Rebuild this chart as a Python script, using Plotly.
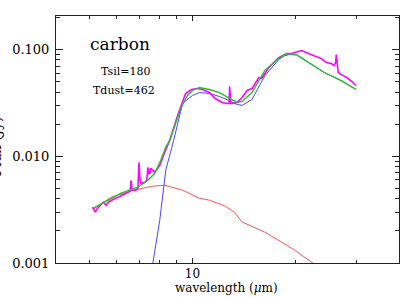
import plotly.graph_objects as go

# observed spectrum (magenta)
obs_wl = [5.107, 5.16, 5.209, 5.26, 5.313, 5.40, 5.494, 5.605, 5.70, 5.794, 5.93, 6.071, 6.20, 6.361, 6.489,
          6.58, 6.620, 6.66, 6.709, 6.844, 6.93, 6.981, 7.03, 7.074, 7.265, 7.36, 7.411, 7.46, 7.510, 7.561,
          7.765, 8.027, 8.299, 8.580, 9.049, 9.545, 9.93, 10.34, 10.69, 11.20, 11.65, 11.97, 12.21, 12.62,
          12.78, 12.83, 12.93, 13.05, 13.49, 13.95, 14.42, 14.91, 15.41, 15.62, 15.9, 16.69, 17.84, 18.82,
          19.45, 20.79, 21.79, 22.52, 23.76, 24.55, 25.38, 25.9, 26.15, 26.25, 26.40, 26.60, 27.5, 28.42, 29.2, 29.99]
obs_f = [0.00334, 0.00310, 0.00300, 0.00320, 0.00334, 0.00350, 0.00372, 0.00348, 0.00375, 0.00388, 0.00400,
         0.00414, 0.00430, 0.00451, 0.00461, 0.00470, 0.00597, 0.00480, 0.00481, 0.00481, 0.00500, 0.00879,
         0.00600, 0.00559, 0.00571, 0.00600, 0.00789, 0.00680, 0.00694, 0.00773, 0.00709, 0.00824, 0.0109,
         0.0141, 0.0241, 0.0388, 0.0423, 0.0432, 0.0423, 0.0396, 0.0348, 0.0334, 0.0320, 0.0313, 0.0313,
         0.0451, 0.0313, 0.0313, 0.0320, 0.0356, 0.0414, 0.0432, 0.0513, 0.0547, 0.0536, 0.0679, 0.0842,
         0.0918, 0.0918, 0.0979, 0.0918, 0.0879, 0.0824, 0.0756, 0.0740, 0.0710, 0.0760, 0.0898, 0.0700,
         0.0610, 0.0570, 0.0536, 0.0500, 0.0461]

# total model (green)
tot_wl = [5.140, 5.680, 6.194, 6.934, 7.411, 7.765, 8.081, 8.356, 8.580, 9.049, 9.357, 9.672, 10.0, 10.48,
          11.20, 11.97, 12.75, 13.49, 13.95, 14.91, 16.25, 17.84, 18.57, 19.20, 20.1, 21.79, 24.23, 27.13, 29.99]
tot_f = [0.00327, 0.00388, 0.00451, 0.00513, 0.00597, 0.00694, 0.00917, 0.01213, 0.0141, 0.0231, 0.0306,
         0.0372, 0.0414, 0.0442, 0.0423, 0.0396, 0.0356, 0.0320, 0.0327, 0.0396, 0.0637, 0.0824, 0.0898,
         0.0918, 0.0898, 0.0756, 0.0610, 0.0513, 0.0423]

# carbon dust component (blue)
sil_wl = [7.411, 7.51, 7.662, 8.027, 8.356, 8.81, 9.357, 10.0, 10.48, 11.20, 11.97, 12.75, 13.49, 13.95,
          14.91, 16.25, 17.84, 18.57, 19.20, 20.1, 21.79, 24.23, 27.13, 29.99]
sil_f = [0.00045, 0.00064, 0.001, 0.00252, 0.0074, 0.0141, 0.0313, 0.0372, 0.0396, 0.0388, 0.0364, 0.0334,
         0.0306, 0.0300, 0.0341, 0.0571, 0.0806, 0.0879, 0.0898, 0.0890, 0.0756, 0.0610, 0.0513, 0.0423]

# hot dust component (red)
dust_wl = [5.140, 5.794, 6.709, 7.662, 8.299, 9.357, 10.48, 11.20, 12.46, 13.23, 13.95, 16.25, 19.85, 22.52, 25.0]
dust_f = [0.00320, 0.00414, 0.00481, 0.00525, 0.00536, 0.00481, 0.00404, 0.00388, 0.00341, 0.00300,
          0.00242, 0.00195, 0.00132, 0.00100, 0.00078]

x_major = [10]
x_minor = [5, 6, 7, 8, 9, 20, 30]
y_major = [0.001, 0.01, 0.1]
y_labels = ["0.001", "0.010", "0.100"]
y_minor = [k * 10.0 ** e for e in (-3, -2, -1) for k in range(2, 10) if k * 10.0 ** e < 0.21]

fig = go.Figure()
fig.add_trace(go.Scatter(x=dust_wl, y=dust_f, mode="lines", line=dict(color="rgb(255,80,80)", width=1)))
fig.add_trace(go.Scatter(x=sil_wl, y=sil_f, mode="lines", line=dict(color="rgb(70,70,255)", width=1)))
fig.add_trace(go.Scatter(x=obs_wl, y=obs_f, mode="lines", line=dict(color="#ff00ff", width=1.6)))
fig.add_trace(go.Scatter(x=tot_wl, y=tot_f, mode="lines", line=dict(color="rgb(40,190,40)", width=1.4)))

font = "DejaVu Serif"
axcol = "#222"
fig.update_layout(
    width=415, height=297,
    margin=dict(l=52, r=16, t=16, b=34),
    paper_bgcolor="white", plot_bgcolor="white",
    showlegend=False,
    font=dict(family=font, size=13, color="black"),
    xaxis=dict(type="log", range=[0.602, 1.602], showgrid=False, zeroline=False,
               showline=True, linecolor=axcol, linewidth=1, mirror="ticks",
               ticks="inside", ticklen=5, tickcolor=axcol, ticklabelstandoff=0,
               tickmode="array", tickvals=x_major, ticktext=["10"],
               minor=dict(ticks="inside", ticklen=3, tickcolor=axcol, tickmode="array", tickvals=x_minor, showgrid=False),
               tickfont=dict(family=font, size=12)),
    yaxis=dict(type="log", range=[-3, -0.685], showgrid=False, zeroline=False,
               showline=True, linecolor=axcol, linewidth=1, mirror="ticks",
               ticks="inside", ticklen=7, tickcolor=axcol, ticklabelstandoff=3,
               tickmode="array", tickvals=y_major, ticktext=y_labels,
               minor=dict(ticks="inside", ticklen=4, tickcolor=axcol, tickmode="array", tickvals=y_minor, showgrid=False),
               tickfont=dict(family=font, size=13)),
)

fig.add_annotation(text="wavelength (<i>μ</i>m)", xref="paper", yref="paper", x=0.498, y=-0.139,
                   xanchor="center", yanchor="bottom", showarrow=False, font=dict(family=font, size=12))
fig.add_annotation(text="Flux (Jy)", xref="paper", yref="paper", x=-0.176, y=0.47, textangle=-90,
                   xanchor="center", yanchor="middle", showarrow=False, font=dict(family=font, size=14))
fig.add_annotation(text="carbon", xref="paper", yref="paper", x=0.092, y=0.885,
                   xanchor="left", yanchor="middle", showarrow=False, font=dict(family=font, size=17))
fig.add_annotation(text="Tsil=180", xref="paper", yref="paper", x=0.124, y=0.775,
                   xanchor="left", yanchor="middle", showarrow=False, font=dict(family=font, size=11))
fig.add_annotation(text="Tdust=462", xref="paper", yref="paper", x=0.101, y=0.70,
                   xanchor="left", yanchor="middle", showarrow=False, font=dict(family=font, size=11))

fig.write_html("out.html", config={"displayModeBar": False},
               post_script="document.body.style.margin='0';")
